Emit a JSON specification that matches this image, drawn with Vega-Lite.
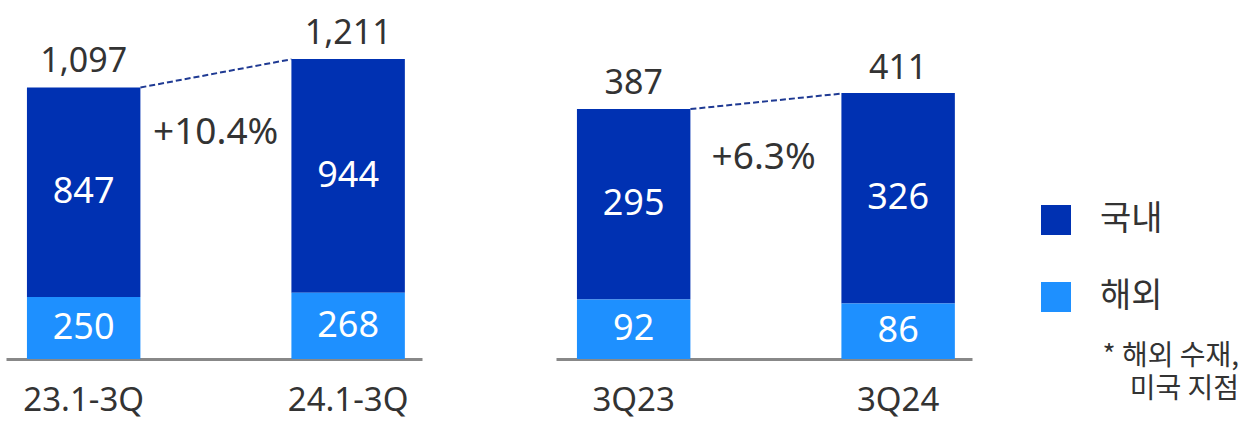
{
  "$schema": "https://vega.github.io/schema/vega-lite/v6.json",
  "padding": {"left": 6, "top": 9, "right": 0, "bottom": 0},
  "background": "white",
  "spacing": 134,
  "datasets": {
    "bars": [
      {"panel": "A", "period": "23.1-3Q", "type": "국내", "value": 847},
      {"panel": "A", "period": "23.1-3Q", "type": "해외", "value": 250},
      {"panel": "A", "period": "24.1-3Q", "type": "국내", "value": 944},
      {"panel": "A", "period": "24.1-3Q", "type": "해외", "value": 268},
      {"panel": "B", "period": "3Q23", "type": "국내", "value": 295},
      {"panel": "B", "period": "3Q23", "type": "해외", "value": 92},
      {"panel": "B", "period": "3Q24", "type": "국내", "value": 326},
      {"panel": "B", "period": "3Q24", "type": "해외", "value": 86}
    ],
    "totals": [
      {"panel": "A", "period": "23.1-3Q", "total": 1097},
      {"panel": "A", "period": "24.1-3Q", "total": 1211},
      {"panel": "B", "period": "3Q23", "total": 387},
      {"panel": "B", "period": "3Q24", "total": 411}
    ],
    "links": [
      {"panel": "A", "from": "23.1-3Q", "to": "24.1-3Q", "y1": 1097, "y2": 1211, "growth": "+10.4%"},
      {"panel": "B", "from": "3Q23", "to": "3Q24", "y1": 387, "y2": 411, "growth": "+6.3%"}
    ]
  },
  "config": {
    "view": {"stroke": null},
    "font": "Noto Sans",
    "axis": {"grid": false},
    "legend": {
      "orient": "none",
      "legendX": 1033,
      "legendY": 194,
      "title": null,
      "symbolType": "square",
      "symbolSize": 900,
      "symbolStrokeWidth": 0,
      "symbolOpacity": 1,
      "labelFontSize": 34,
      "labelFont": "Noto Sans CJK KR",
      "labelColor": "#333333",
      "labelOffset": 27,
      "rowPadding": 43,
      "padding": 0
    }
  },
  "title": {
    "text": ["* 해외 수재,", "미국 지점"],
    "orient": "bottom",
    "anchor": "end",
    "align": "right",
    "font": "Noto Sans CJK KR",
    "fontSize": 28,
    "fontWeight": "normal",
    "color": "#333333",
    "lineHeight": 33,
    "dx": 76,
    "dy": -78
  },
  "hconcat": [
    {
      "width": 416,
      "height": 350,
      "layer": [
        {
          "data": {"name": "bars"},
          "transform": [{"filter": "datum.panel == 'A'"}],
          "mark": {"type": "bar"},
          "encoding": {
            "x": {"field": "period", "type": "nominal", "sort": null,
              "scale": {"paddingInner": 0.571, "paddingOuter": 0.072, "align": 0.55},
              "axis": {"title": null, "labelAngle": 0, "ticks": false, "tickSize": 0, "labelPadding": 25, "labelFontSize": 33, "labelColor": "#333333", "domainColor": "#888888", "domainWidth": 3}},
            "y": {"field": "value", "type": "quantitative", "stack": "zero", "scale": {"domain": [0, 1414], "nice": false, "zero": true}, "axis": null},
            "color": {"field": "type", "type": "nominal", "scale": {"domain": ["국내", "해외"], "range": ["#0031B2", "#1E90FF"]}},
            "order": {"field": "type", "sort": "descending"}
          }
        },
        {
          "data": {"name": "bars"},
          "transform": [
            {"filter": "datum.panel == 'A'"},
            {"stack": "value", "groupby": ["period"], "sort": [{"field": "type", "order": "descending"}], "as": ["v0", "v1"]},
            {"calculate": "(datum.v0 + datum.v1) / 2", "as": "mid"}
          ],
          "mark": {"type": "text", "color": "white", "fontSize": 36, "baseline": "middle"},
          "encoding": {
            "x": {"field": "period", "type": "nominal", "sort": null},
            "y": {"field": "mid", "type": "quantitative"},
            "text": {"field": "value", "type": "quantitative", "format": ","}
          }
        },
        {
          "data": {"name": "totals"},
          "transform": [{"filter": "datum.panel == 'A'"}],
          "mark": {"type": "text", "color": "#333333", "fontSize": 34, "baseline": "alphabetic", "dy": -15},
          "encoding": {
            "x": {"field": "period", "type": "nominal", "sort": null},
            "y": {"field": "total", "type": "quantitative"},
            "text": {"field": "total", "type": "quantitative", "format": ","}
          }
        },
        {
          "data": {"name": "links"},
          "transform": [{"filter": "datum.panel == 'A'"}],
          "mark": {"type": "rule", "color": "#1F3A93", "strokeWidth": 2, "strokeDash": [6, 3]},
          "encoding": {
            "x": {"field": "from", "type": "nominal", "bandPosition": 1},
            "x2": {"field": "to", "bandPosition": 0},
            "y": {"field": "y1", "type": "quantitative"},
            "y2": {"field": "y2"}
          }
        },
        {
          "data": {"name": "links"},
          "transform": [{"filter": "datum.panel == 'A'"}],
          "mark": {"type": "text", "color": "#333333", "fontSize": 37, "baseline": "middle", "dx": 132, "dy": 46},
          "encoding": {
            "x": {"field": "from", "type": "nominal"},
            "y": {"field": "y1", "type": "quantitative"},
            "text": {"field": "growth"}
          }
        }
      ]
    },
    {
      "width": 416,
      "height": 350,
      "layer": [
        {
          "data": {"name": "bars"},
          "transform": [{"filter": "datum.panel == 'B'"}],
          "mark": {"type": "bar"},
          "encoding": {
            "x": {"field": "period", "type": "nominal", "sort": null,
              "scale": {"paddingInner": 0.571, "paddingOuter": 0.072, "align": 0.55},
              "axis": {"title": null, "labelAngle": 0, "ticks": false, "tickSize": 0, "labelPadding": 25, "labelFontSize": 33, "labelColor": "#333333", "domainColor": "#888888", "domainWidth": 3}},
            "y": {"field": "value", "type": "quantitative", "stack": "zero", "scale": {"domain": [0, 542], "nice": false, "zero": true}, "axis": null},
            "color": {"field": "type", "type": "nominal", "scale": {"domain": ["국내", "해외"], "range": ["#0031B2", "#1E90FF"]}},
            "order": {"field": "type", "sort": "descending"}
          }
        },
        {
          "data": {"name": "bars"},
          "transform": [
            {"filter": "datum.panel == 'B'"},
            {"stack": "value", "groupby": ["period"], "sort": [{"field": "type", "order": "descending"}], "as": ["v0", "v1"]},
            {"calculate": "(datum.v0 + datum.v1) / 2", "as": "mid"}
          ],
          "mark": {"type": "text", "color": "white", "fontSize": 36, "baseline": "middle"},
          "encoding": {
            "x": {"field": "period", "type": "nominal", "sort": null},
            "y": {"field": "mid", "type": "quantitative"},
            "text": {"field": "value", "type": "quantitative", "format": ","}
          }
        },
        {
          "data": {"name": "totals"},
          "transform": [{"filter": "datum.panel == 'B'"}],
          "mark": {"type": "text", "color": "#333333", "fontSize": 34, "baseline": "alphabetic", "dy": -15},
          "encoding": {
            "x": {"field": "period", "type": "nominal", "sort": null},
            "y": {"field": "total", "type": "quantitative"},
            "text": {"field": "total", "type": "quantitative", "format": ","}
          }
        },
        {
          "data": {"name": "links"},
          "transform": [{"filter": "datum.panel == 'B'"}],
          "mark": {"type": "rule", "color": "#1F3A93", "strokeWidth": 2, "strokeDash": [6, 3]},
          "encoding": {
            "x": {"field": "from", "type": "nominal", "bandPosition": 1},
            "x2": {"field": "to", "bandPosition": 0},
            "y": {"field": "y1", "type": "quantitative"},
            "y2": {"field": "y2"}
          }
        },
        {
          "data": {"name": "links"},
          "transform": [{"filter": "datum.panel == 'B'"}],
          "mark": {"type": "text", "color": "#333333", "fontSize": 37, "baseline": "middle", "dx": 130, "dy": 49},
          "encoding": {
            "x": {"field": "from", "type": "nominal"},
            "y": {"field": "y1", "type": "quantitative"},
            "text": {"field": "growth"}
          }
        }
      ]
    }
  ],
  "resolve": {"scale": {"y": "independent", "x": "independent"}}
}
